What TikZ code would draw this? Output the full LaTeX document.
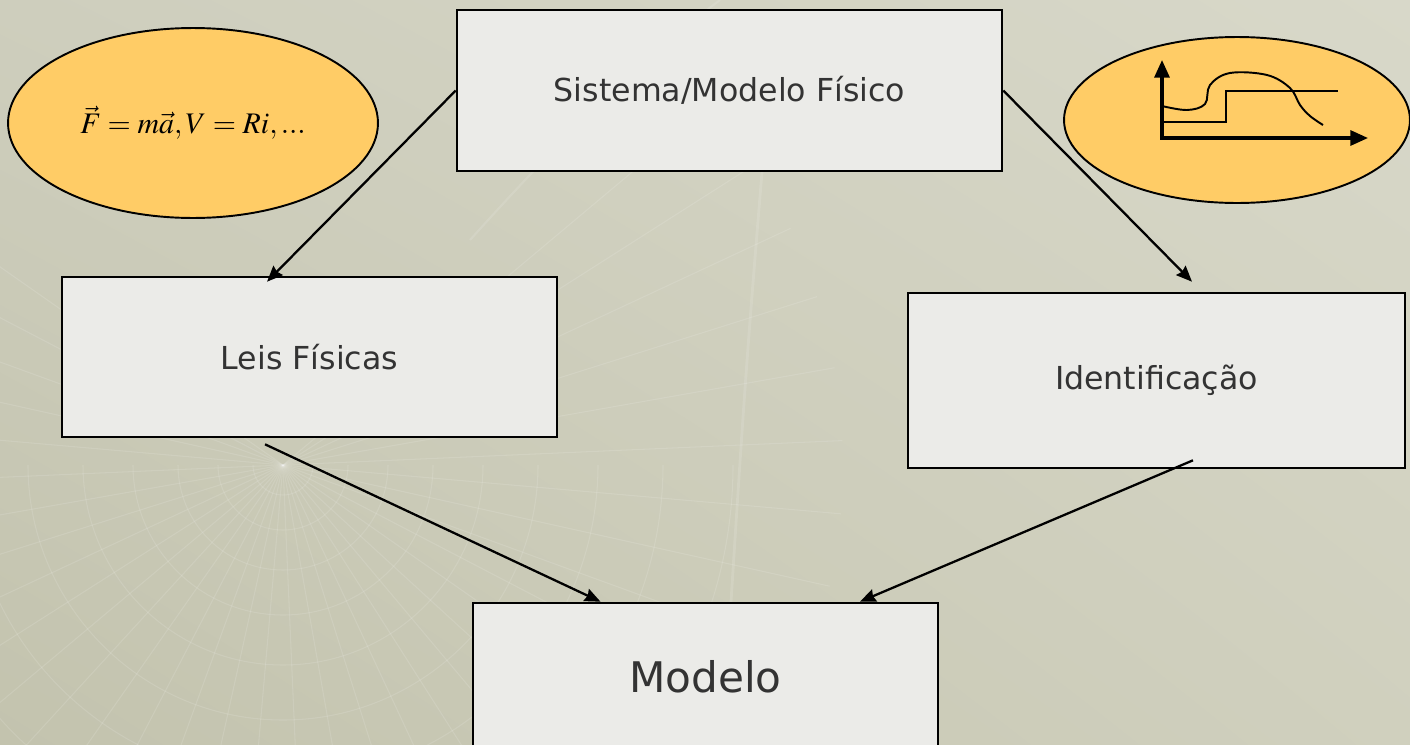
\documentclass[tikz,border=0pt]{standalone}
\usepackage{mathptmx}
\usepackage[no-math]{fontspec}
\setmainfont{DejaVu Sans}
\usepackage{tikz}
\usetikzlibrary{shapes.geometric, arrows, arrows.meta, positioning, shadings}
\definecolor{fundoA}{RGB}{195,195,174}
\definecolor{fundoB}{RGB}{206,206,189}
\definecolor{fundoC}{RGB}{216,216,201}
\definecolor{fundoD}{RGB}{208,208,190}
\definecolor{caixa}{RGB}{235,235,232}
\definecolor{laranja}{RGB}{255,204,102}
\definecolor{texto}{RGB}{51,51,51}
\tikzstyle{bloco} = [rectangle, draw=black, line width=1.5pt, fill=caixa, text=texto, text centered, font=\fontsize{18}{22}\selectfont]
\tikzstyle{balao} = [ellipse, draw=black, line width=1.1pt, fill=laranja, inner sep=0pt]
\tikzstyle{seta} = [line width=1.3pt,->,>={Stealth[length=9pt,width=7.5pt,inset=1pt]}]
\tikzstyle{grade} = [draw=white, opacity=0.12, line width=0.6pt]

\begin{document}
\begin{tikzpicture}[x=0.02cm, y=-0.02cm]
\clip (0,0) rectangle (1410,744);
\shade [lower left=fundoA, upper left=fundoB, upper right=fundoC, lower right=fundoD] (0,0) rectangle (1410,744);
% fundo
\foreach \a in {-40,-32.5,...,220}
  \draw [grade] (283,465) -- ++(\a:560);
\foreach \r in {30,65,105,150,200,255,315,380,450}
  \draw [grade] (283,465) ++(0:\r) arc (0:180:\r);
\draw [grade, line width=1.6pt] (762,172) .. controls (745,380) .. (722,744);
\draw [grade, line width=1.2pt] (470,240) .. controls (560,140) and (640,60) .. (720,0);
\node (fisica) [balao, minimum width=7.4cm, minimum height=3.8cm] at (193,123) {\fontsize{17}{20}\selectfont $\vec{F}=m\vec{a},V=Ri,...$};
\node (dados) [balao, minimum width=6.92cm, minimum height=3.32cm] at (1237,120) {};
\node (sistema) [bloco, minimum width=10.9cm, minimum height=3.22cm] at (729.5,90.5) {Sistema/Modelo Físico};
\node (leis) [bloco, minimum width=9.9cm, minimum height=3.2cm] at (309.5,357) {Leis Físicas};
\node (ident) [bloco, minimum width=9.94cm, minimum height=3.5cm] at (1156.5,380.5) {Identificação};
\node (modelo) [bloco, minimum width=9.3cm, minimum height=2.96cm, font=\fontsize{24}{29}\selectfont] at (705.5,677) {Modelo};
\draw [seta] (sistema.west) -- ([xshift=-0.85cm,yshift=-0.12cm]leis.north);
\draw [seta] (sistema.east) -- ([xshift=0.71cm,yshift=0.2cm]ident.north);
\draw [seta] ([xshift=-0.89cm,yshift=-0.12cm]leis.south) -- ([xshift=-2.1cm]modelo.north);
\draw [seta] ([xshift=0.73cm,yshift=0.18cm]ident.south) -- ([xshift=3.09cm]modelo.north);
% curva de resposta
\draw [line width=1.8pt, {Triangle[length=10pt,width=8.5pt]}-{Triangle[length=10pt,width=8.5pt]}] (1162,60) -- (1162,138) -- (1368,138);
\draw [line width=1.4pt] (1162,122) -| (1226,91) -- (1338,91);
\draw [line width=1.1pt] plot[smooth, tension=0.6] coordinates {(1162,106) (1187,110) (1205,104) (1210,85) (1230,73) (1267,75) (1290,88) (1300,105) (1310,116) (1323,125)};
\end{tikzpicture}
\end{document}
